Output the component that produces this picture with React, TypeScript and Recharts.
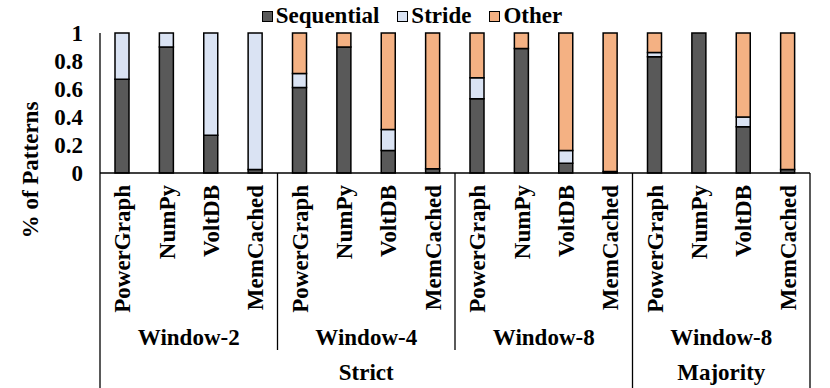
import { BarChart, Bar, XAxis, YAxis, Legend } from "recharts";

const apps = ["PowerGraph", "NumPy", "VoltDB", "MemCached"];
const windows = ["Window-2", "Window-4", "Window-8", "Window-8"];
const policies = ["Strict", "Strict", "Strict", "Majority"];

const sequential = [0.67, 0.9, 0.27, 0.025, 0.61, 0.9, 0.16, 0.03, 0.53, 0.89, 0.07, 0.01, 0.83, 1.0, 0.33, 0.025];
const stride = [0.33, 0.1, 0.73, 0.975, 0.1, 0, 0.15, 0, 0.15, 0, 0.09, 0, 0.03, 0, 0.07, 0];
const other = [0, 0, 0, 0, 0.29, 0.1, 0.69, 0.97, 0.32, 0.11, 0.84, 0.99, 0.14, 0, 0.6, 0.975];

const yTicks = [0, 0.2, 0.4, 0.6, 0.8, 1];

const colors = { Sequential: "#595959", Stride: "#dae3f3", Other: "#f4b183" };

const data = sequential.map((s, i) => ({
  app: apps[i % 4],
  Sequential: s,
  Stride: stride[i],
  Other: other[i],
}));

// chart geometry
const W = 830;
const H = 388;
const margin = { top: 4, right: 20, bottom: 0, left: 10 };
const yAxisWidth = 90;
const plotW = W - margin.left - yAxisWidth - margin.right;
const step = plotW / data.length;
const font = "'Liberation Serif', 'Times New Roman', serif";
const fs = 23;

// policy spans built from the policies list
const policySpans: { name: string; start: number; count: number }[] = [];
policies.forEach((p, g) => {
  const last = policySpans[policySpans.length - 1];
  if (last && last.name === p) last.count += 4;
  else policySpans.push({ name: p, start: g * 4, count: 4 });
});

function AppTick(props: any) {
  const { x, y, payload } = props;
  const i = payload.index;
  const left = x - step / 2;
  const isPolicyStart = policySpans.some((s) => s.start === i);
  const parts: any[] = [];
  parts.push(
    <text
      key="t"
      transform={`translate(${x + 8},${y + 12}) rotate(-90)`}
      textAnchor="end"
      fontFamily={font}
      fontWeight="bold"
      fontSize={fs}
      fill="#000"
    >
      {payload.value}
    </text>
  );
  if (i % 4 === 0) {
    parts.push(
      <line key="l" x1={left} x2={left} y1={y} y2={isPolicyStart ? H : y + 177} stroke="#000" strokeWidth={1.3} />
    );
    parts.push(
      <text
        key="w"
        x={left + 2 * step}
        y={y + 172}
        textAnchor="middle"
        fontFamily={font}
        fontWeight="bold"
        fontSize={fs}
        fill="#000"
      >
        {windows[i / 4]}
      </text>
    );
  }
  policySpans
    .filter((s) => s.start === i)
    .forEach((s) =>
      parts.push(
        <text
          key="p"
          x={left + (s.count * step) / 2}
          y={y + 207}
          textAnchor="middle"
          fontFamily={font}
          fontWeight="bold"
          fontSize={fs}
          fill="#000"
        >
          {s.name}
        </text>
      )
    );
  if (i === data.length - 1) {
    parts.push(<line key="r" x1={x + step / 2} x2={x + step / 2} y1={y} y2={H} stroke="#000" strokeWidth={1.3} />);
  }
  return <g>{parts}</g>;
}

function YLabel(props: any) {
  const vb = props.viewBox;
  const cx = vb.x + 20;
  const cy = vb.y + vb.height / 2 + 67;
  return (
    <text
      transform={`translate(${cx + 8},${cy}) rotate(-90)`}
      textAnchor="middle"
      fontFamily={font}
      fontWeight="bold"
      fontSize={fs}
      fill="#000"
    >
      % of Patterns
    </text>
  );
}

function LegendContent() {
  const keys = ["Sequential", "Stride", "Other"] as const;
  return (
    <div style={{ height: 29, display: "flex", justifyContent: "center", alignItems: "flex-start", paddingLeft: 22 }}>
      {keys.map((k) => (
        <div key={k} style={{ display: "flex", alignItems: "center", height: 24, marginRight: 18 }}>
          <span
            style={{
              display: "inline-block",
              width: 9,
              height: 9,
              background: colors[k],
              border: "1px solid #000",
              marginRight: 3,
            }}
          />
          <span style={{ fontFamily: font, fontWeight: "bold", fontSize: fs, color: "#000" }}>{k}</span>
        </div>
      ))}
    </div>
  );
}

export default function App() {
  return (
    <div style={{ position: "absolute", left: 0, top: 0, background: "#fff" }}>
      <BarChart width={W} height={H} data={data} margin={margin} barSize={14}>
        <Legend verticalAlign="top" content={<LegendContent />} />
        <XAxis
          dataKey="app"
          interval={0}
          height={215}
          stroke="#000"
          strokeWidth={1.3}
          tickLine={false}
          tickSize={0}
          tickMargin={0}
          tick={<AppTick />}
        />
        <YAxis
          width={yAxisWidth}
          domain={[0, 1]}
          ticks={yTicks}
          interval={0}
          stroke="#000"
          strokeWidth={1.3}
          tickLine={false}
          tickSize={0}
          tickMargin={17}
          tick={{ fontFamily: font, fontWeight: "bold", fontSize: fs, fill: "#000" }}
          label={<YLabel />}
        />
        <Bar dataKey="Sequential" stackId="a" fill={colors.Sequential} stroke="#000" strokeWidth={1.5} isAnimationActive={false} />
        <Bar dataKey="Stride" stackId="a" fill={colors.Stride} stroke="#000" strokeWidth={1.5} isAnimationActive={false} />
        <Bar dataKey="Other" stackId="a" fill={colors.Other} stroke="#000" strokeWidth={1.5} isAnimationActive={false} />
      </BarChart>
    </div>
  );
}
